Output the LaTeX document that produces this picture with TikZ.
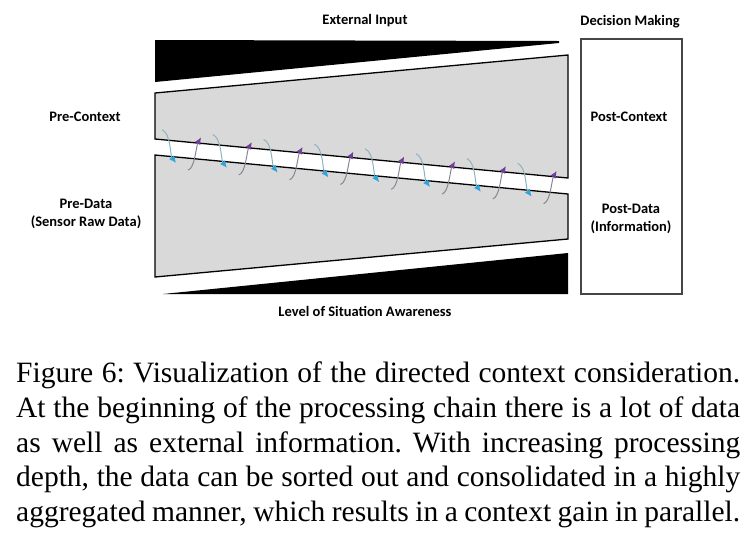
\documentclass[tikz,border=0pt]{standalone}
\usepackage{fontspec}
\usetikzlibrary{arrows.meta,calc}
\newfontfamily\labfont{Carlito}
\newfontfamily\capfont{Liberation Serif}
\definecolor{shapegray}{RGB}{217,217,217}
\definecolor{boxline}{RGB}{70,70,70}
\definecolor{bluetip}{RGB}{45,165,220}
\definecolor{blueline}{RGB}{140,180,192}
\definecolor{purpletip}{RGB}{112,62,150}
\definecolor{purpleline}{RGB}{135,135,148}
\tikzset{
  lab/.style={font=\labfont\bfseries\fontsize{14.5}{18.5}\selectfont, align=center, inner sep=0pt},
  grayshape/.style={fill=shapegray, draw=black, line width=1.3pt, line join=miter},
  blackshape/.style={fill=black, draw=none},
  bluearc/.style={draw=blueline, line width=1pt, -{Latex[length=7pt,width=6.5pt,color=bluetip]}},
  purplearc/.style={draw=purpleline, line width=1pt, -{Latex[length=7pt,width=6.5pt,color=purpletip]}},
}
\begin{document}
\begin{tikzpicture}[x=1pt,y=-1pt]
\useasboundingbox (0,0) rectangle (752,542);
% black wedges
\fill[blackshape] (155,40) -- (559,41) -- (559,43) -- (155,82) -- cycle;
\fill[blackshape] (163,294) -- (568,253) -- (568,294) -- cycle;
% gray trapezoids
\draw[grayshape] (155,93) -- (568,55) -- (568,178) -- (155,139) -- cycle;
\draw[grayshape] (155,155) -- (568,194) -- (568,239) -- (155,277) -- cycle;
% right box
\draw[boxline, line width=1.1pt] (581,39) rectangle (682,294);
% exchange arrows
\pgfmathsetmacro{\sl}{39/413}
\foreach \i in {0,...,7} {
  \pgfmathsetmacro{\sx}{162+50.8*\i}
  \pgfmathsetmacro{\sy}{139+\sl*(\sx-155)-10}
  \pgfmathsetmacro{\ex}{176+50.8*\i}
  \pgfmathsetmacro{\ey}{155+\sl*(\ex-155)+6}
  \coordinate (bs\i) at (\sx,\sy);
  \coordinate (be\i) at (\ex,\ey);
  \draw[bluearc] (bs\i) .. controls ($(bs\i)+(9,4)$) and ($(be\i)+(-6,-8)$) .. (be\i);
  \pgfmathsetmacro{\px}{188+50.8*\i}
  \pgfmathsetmacro{\py}{155+\sl*(\px-155)+12}
  \pgfmathsetmacro{\tx}{201+50.8*\i}
  \pgfmathsetmacro{\ty}{139+\sl*(\tx-155)-6}
  \coordinate (ps\i) at (\px,\py);
  \coordinate (pe\i) at (\tx,\ty);
  \draw[purplearc] (ps\i) .. controls ($(ps\i)+(7,-2)$) and ($(pe\i)+(-5,9)$) .. (pe\i);
}
% labels
\node[lab] (ext) at (365,21) {External Input};
\node[lab] (dec) at (630,22) {Decision Making};
\node[lab] (prec) at (85,117) {Pre-Context};
\node[lab] (pred) at (86,214) {Pre-Data\\(Sensor Raw Data)};
\node[lab] (postc) at (629,117) {Post-Context};
\node[lab] (postd) at (631,219) {Post-Data\\(Information)};
\node[lab] (lsa) at (365,311) {Level of Situation Awareness};
% caption
\node[anchor=base west, inner sep=0pt] (cap) at (16,382.3) {\parbox[t]{724pt}{\frenchspacing\capfont\fontsize{29.5}{34.85}\selectfont
\makebox[\linewidth][s]{Figure 6: Visualization of the directed context consideration.}\\
\makebox[\linewidth][s]{At the beginning of the processing chain there is a lot of data}\\
\makebox[\linewidth][s]{as well as external information. With increasing processing}\\
\makebox[\linewidth][s]{depth, the data can be sorted out and consolidated in a highly}\\
\makebox[\linewidth][s]{aggregated manner, which results in a context gain in parallel.}}};
\end{tikzpicture}
\end{document}
